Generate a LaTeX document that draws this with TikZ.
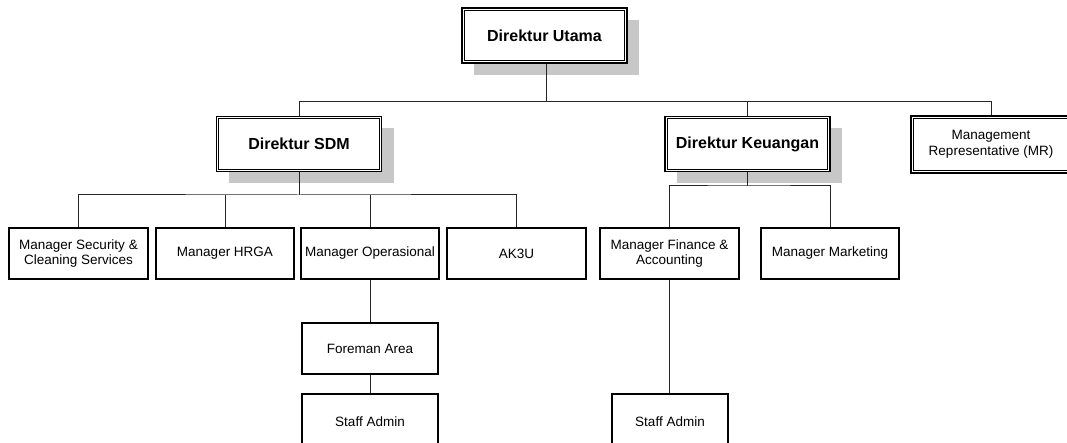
\documentclass[tikz,border=0pt]{standalone}
\usepackage{fontspec}
\setmainfont{Liberation Sans}
\usetikzlibrary{shadows}
\begin{document}
\begin{tikzpicture}[x=1pt,y=-1pt,
  box/.style={draw,line width=1.3pt,fill=white,inner sep=0pt,align=center,
    font=\fontsize{13.5}{15.5}\selectfont},
  topbox/.style={draw,line width=1.8pt,fill=white,inner sep=0pt,align=center,
    font=\fontsize{16}{19}\selectfont\bfseries,
    minimum width=165pt,minimum height=55pt},
  shadowed/.style={drop shadow={shadow xshift=12pt,shadow yshift=-12pt,
    fill=black!22,opacity=1}},
  conn/.style={line width=1pt,black!85}]
\useasboundingbox (0,0) rectangle (1067,443);
\clip (0,0) rectangle (1067,443);

% top level boxes
\node[topbox,shadowed] (du) at (544.5,35.5) {Direktur Utama};
\node[topbox,shadowed] (sdm) at (299,144) {Direktur SDM};
\node[topbox,shadowed] (dk) at (747.5,144) {Direktur Keuangan};
\node[topbox,minimum width=160pt,minimum height=57pt,
  font=\fontsize{13.5}{15.5}\selectfont] (mr) at (991,144.5) {Management\\Representative (MR)};
\foreach \n in {du,sdm,dk,mr}
  \draw[line width=0.8pt] ([shift={(3.2,3.2)}]\n.north west) rectangle ([shift={(-3.2,-3.2)}]\n.south east);

% second level
\node[box,minimum width=139pt,minimum height=51pt] (sec) at (78.5,253.5) {Manager Security \&\\Cleaning Services};
\node[box,minimum width=138pt,minimum height=51pt] (hrga) at (225,253.5) {Manager HRGA};
\node[box,minimum width=138pt,minimum height=51pt] (ops) at (370,253.5) {Manager Operasional};
\node[box,minimum width=139pt,minimum height=51pt] (ak3u) at (516.5,253.5) {AK3U};
\node[box,minimum width=139pt,minimum height=51pt] (fin) at (669.5,253.5) {Manager Finance \&\\Accounting};
\node[box,minimum width=138pt,minimum height=51pt] (mkt) at (830,253.5) {Manager Marketing};

% third level
\node[box,minimum width=136pt,minimum height=51pt] (fore) at (370,348.5) {Foreman Area};
\node[box,minimum width=136pt,minimum height=56pt] (sa1) at (370,422) {Staff Admin};
\node[box,minimum width=116pt,minimum height=56pt] (sa2) at (670,422) {Staff Admin};

% connectors
\coordinate (b1) at (546,102);
\draw[conn] (du.south -| b1) -- (b1);
\draw[conn] (sdm.north) |- (mr.north |- b1) -- (mr.north);
\draw[conn] (dk.north) -- (dk.north |- b1);

\coordinate (b2) at (299,195);
\draw[conn] (sdm.south) -- (b2);
\draw[conn] (sec.north) |- (b2) -| (ak3u.north);
\draw[conn] (hrga.north) -- (hrga.north |- b2);
\draw[conn] (ops.north) -- (ops.north |- b2);

\coordinate (b3) at (747.5,186);
\draw[conn] (dk.south) -- (b3);
\draw[conn] (fin.north) |- (b3) -| (mkt.north);

\draw[conn] (ops.south) -- (fore.north);
\draw[conn] (fore.south) -- (sa1.north);
\draw[conn] (fin.south) -- (fin.south |- sa2.north);
\end{tikzpicture}
\end{document}
